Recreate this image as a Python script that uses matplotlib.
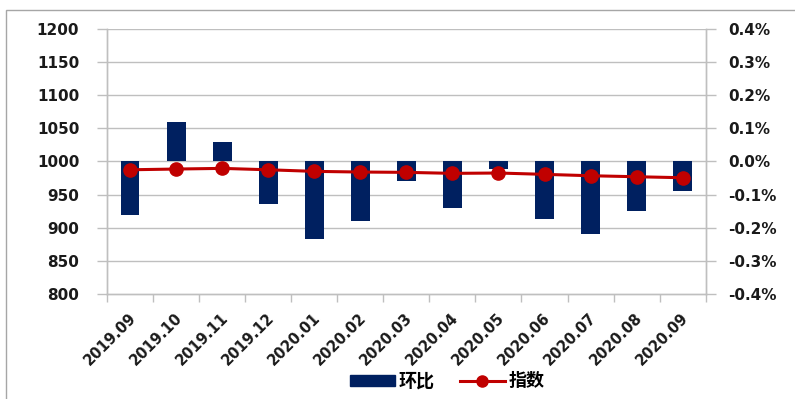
import numpy as np
import matplotlib.pyplot as plt
from matplotlib.patches import Rectangle
from matplotlib.lines import Line2D

plt.rcParams['font.family'] = ['DejaVu Sans', 'Noto Sans CJK SC']

# データ
months = ["2019.09", "2019.10", "2019.11", "2019.12", "2020.01", "2020.02", "2020.03",
          "2020.04", "2020.05", "2020.06", "2020.07", "2020.08", "2020.09"]
mom = [-0.163, 0.120, 0.057, -0.128, -0.235, -0.181, -0.058,
       -0.141, -0.022, -0.173, -0.220, -0.150, -0.090]  # 环比 (%)
index = [987.3, 988.4, 989.4, 987.3, 984.9, 983.9, 983.4,
         981.9, 982.4, 980.4, 978.3, 976.8, 975.3]  # 指数

left_ticks = [800, 850, 900, 950, 1000, 1050, 1100, 1150, 1200]
right_ticks = [-0.4, -0.3, -0.2, -0.1, 0.0, 0.1, 0.2, 0.3, 0.4]

navy = "#002060"
red = "#C00000"
grid_c = "#BFBFBF"
txt_c = "#1A1A1A"

fig = plt.figure(figsize=(7.95, 3.99), dpi=100)
fig.patches.append(Rectangle((5.5 / 795, -0.01), 1.0, 1 - 9.5 / 399 + 0.01,
                             transform=fig.transFigure, fill=False,
                             edgecolor="#A6A6A6", linewidth=1.0))

ax = fig.add_axes([107 / 795, 1 - 294 / 399, (705.7 - 107) / 795, (294 - 28.7) / 399])
ax2 = ax.twinx()

x = np.arange(len(months))

# 棒グラフ（右軸）
ax2.bar(x, mom, width=0.41, color=navy, zorder=2)
ax2.set_ylim(-0.4, 0.4)
ax2.set_yticks(right_ticks)
ax2.set_yticklabels([f"{v:.1f}%" for v in right_ticks])

# 折れ線（左軸）
ax.set_zorder(ax2.get_zorder() + 1)
ax.patch.set_visible(False)
ax.plot(x, index, color=red, linewidth=2.2, marker="o", markersize=9.5,
        markerfacecolor=red, markeredgecolor=red, zorder=3)
ax.set_ylim(800, 1200)
ax.set_yticks(left_ticks)
ax.set_xlim(-0.5, len(months) - 0.5)

for v in left_ticks[1:]:
    ax2.axhline(0.4 * (v - 1000) / 200, color=grid_c, linewidth=1.0, zorder=0)

ax.set_xticks(x - 0.04)
ax.set_xticklabels(months, rotation=45, ha="right", rotation_mode="anchor")
ax.set_xticks(np.arange(len(months) + 1) - 0.5, minor=True)
ax.tick_params(axis="x", which="major", length=0, pad=12, labelsize=10.5,
               labelcolor=txt_c)
ax.tick_params(axis="x", which="minor", length=6, width=1.0, color=grid_c)
ax.tick_params(axis="y", length=7, width=1.0, color=grid_c, pad=13,
               labelsize=11, labelcolor=txt_c)
ax2.tick_params(axis="y", length=7, width=1.0, color=grid_c, pad=9,
                labelsize=11, labelcolor=txt_c)
for lab in ax.get_xticklabels() + ax.get_yticklabels() + ax2.get_yticklabels():
    lab.set_fontweight("bold")

for a in (ax, ax2):
    a.spines["top"].set_visible(False)
    for s in ("left", "right", "bottom"):
        a.spines[s].set_color(grid_c)
        a.spines[s].set_linewidth(1.0)

handles = [Rectangle((0, 0), 1, 1, color=navy),
           Line2D([], [], color=red, linewidth=2.2, marker="o", markersize=8)]
fig.legend(handles, ["环比", "指数"], loc="center", bbox_to_anchor=(447 / 795, 1 - 381 / 399),
           ncol=2, frameon=False, handlelength=2.5, handleheight=0.55, handletextpad=0.2,
           columnspacing=1.4,
           prop={"family": ["Noto Sans CJK SC"], "weight": "bold", "size": 13})

fig.savefig("out.png", dpi=100)
